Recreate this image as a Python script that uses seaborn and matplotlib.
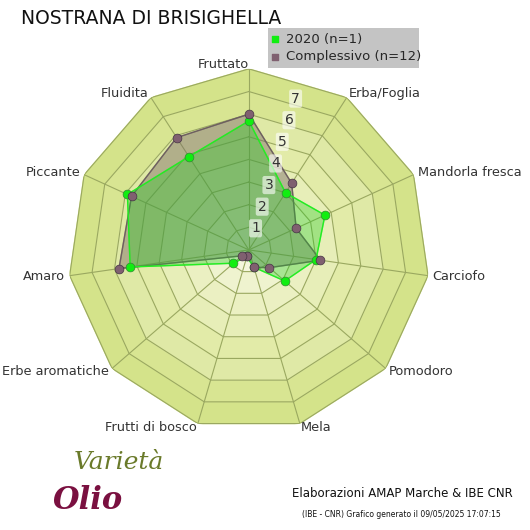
import numpy as np
import matplotlib
matplotlib.use("Agg")
import matplotlib.pyplot as plt
import seaborn as sns

sns.set_style("white")
plt.rcParams['font.family'] = ['DejaVu Sans']

categories = ["Fruttato", "Erba/Foglia", "Mandorla fresca", "Carciofo", "Pomodoro", "Mela",
              "Frutti di bosco", "Erbe aromatiche", "Amaro", "Piccante", "Fluidita"]
v2020 = [5.7, 3.0, 3.7, 3.0, 2.1, 0.8, 0.3, 0.9, 5.3, 5.9, 4.9]
vall = [6.0, 3.5, 2.3, 3.2, 1.2, 0.8, 0.3, 0.4, 5.8, 5.7, 5.9]
rticks = [1, 2, 3, 4, 5, 6, 7]

n = len(categories)
ang = np.linspace(0, 2*np.pi, n, endpoint=False)
angc = np.append(ang, ang[0])

fig = plt.figure(figsize=(5.3, 5.3), dpi=100)
fig.patch.set_facecolor("white")
ax = fig.add_axes([0.128, 0.187, 0.683, 0.683], projection="polar")
ax.set_theta_offset(np.pi/2)
ax.set_theta_direction(-1)
ax.set_ylim(0, 8.0)
ax.axis("off")

rings = [8.0, 7, 6, 5, 4, 3, 2, 1]
cols = ["#d4e38a", "#d8e592", "#dfe9a6", "#e2eba8", "#e7eeb8", "#ebf0c2", "#eff3cf", "#f4f6dc"]
for r, c in zip(rings, cols):
    ax.fill(angc, [r]*(n+1), color=c, zorder=1)
    ax.plot(angc, [r]*(n+1), color="#9aa860", lw=0.8, zorder=2)
for a in ang:
    ax.plot([a, a], [0, 8.0], color="#9aa860", lw=0.8, zorder=2)

ax.fill(angc, np.append(vall, vall[0]), color="#7a6a6a", alpha=0.45, zorder=3)
ax.plot(angc, np.append(vall, vall[0]), color="#6d5f5f", lw=1, zorder=4)
ax.fill(angc, np.append(v2020, v2020[0]), color="#22cc22", alpha=0.35, zorder=5)
ax.plot(angc, np.append(v2020, v2020[0]), color="#22ee22", lw=1, zorder=6)
ax.scatter(ang, v2020, s=40, color="#11ee11", edgecolor="#338833", lw=0.5, zorder=7)
ax.scatter(ang, vall, s=40, color="#806070", edgecolor="#443344", lw=0.5, zorder=8)

for t in rticks:
    ax.text(0.3, t, str(t), ha="center", va="center", fontsize=10, color="#333",
            bbox=dict(boxstyle="round,pad=0.15", fc="white", ec="none", alpha=0.6), zorder=9)
for i, (a, lab) in enumerate(zip(ang, categories)):
    s, c = np.sin(a), np.cos(a)
    ha = "center" if abs(s) < 0.2 else ("left" if s > 0 else "right")
    if i == 0:
        ha = "right"
    ax.text(a, 8.2, lab, ha=ha, va="center", fontsize=9.3, color="#333", zorder=10)

fig.text(0.04, 0.965, "NOSTRANA DI BRISIGHELLA", fontsize=13.5, va="center", color="#111")
leg = fig.add_axes([0.505, 0.872, 0.285, 0.075])
leg.set_facecolor("#c4c4c4")
leg.set_xticks([]); leg.set_yticks([])
for s in leg.spines.values():
    s.set_visible(False)
leg.scatter([0.05], [0.72], s=18, marker="s", color="#11ee11", transform=leg.transAxes)
leg.scatter([0.05], [0.28], s=18, marker="s", color="#806070", transform=leg.transAxes)
leg.text(0.12, 0.72, "2020 (n=1)", transform=leg.transAxes, va="center", fontsize=9.5)
leg.text(0.12, 0.28, "Complessivo (n=12)", transform=leg.transAxes, va="center", fontsize=9.5)

fig.text(0.14, 0.115, "Varietà", fontsize=18, style="italic", color="#6a7a2a", family="DejaVu Serif")
fig.text(0.1, 0.04, "Olio", fontsize=22, style="italic", weight="bold", color="#7a1040", family="DejaVu Serif")
fig.text(0.55, 0.063, "Elaborazioni AMAP Marche & IBE CNR", fontsize=8.5, color="#111")
fig.text(0.57, 0.025, "(IBE - CNR) Grafico generato il 09/05/2025 17:07:15", fontsize=5.5, color="#111")
fig.savefig("out.png", dpi=100, facecolor="white")
